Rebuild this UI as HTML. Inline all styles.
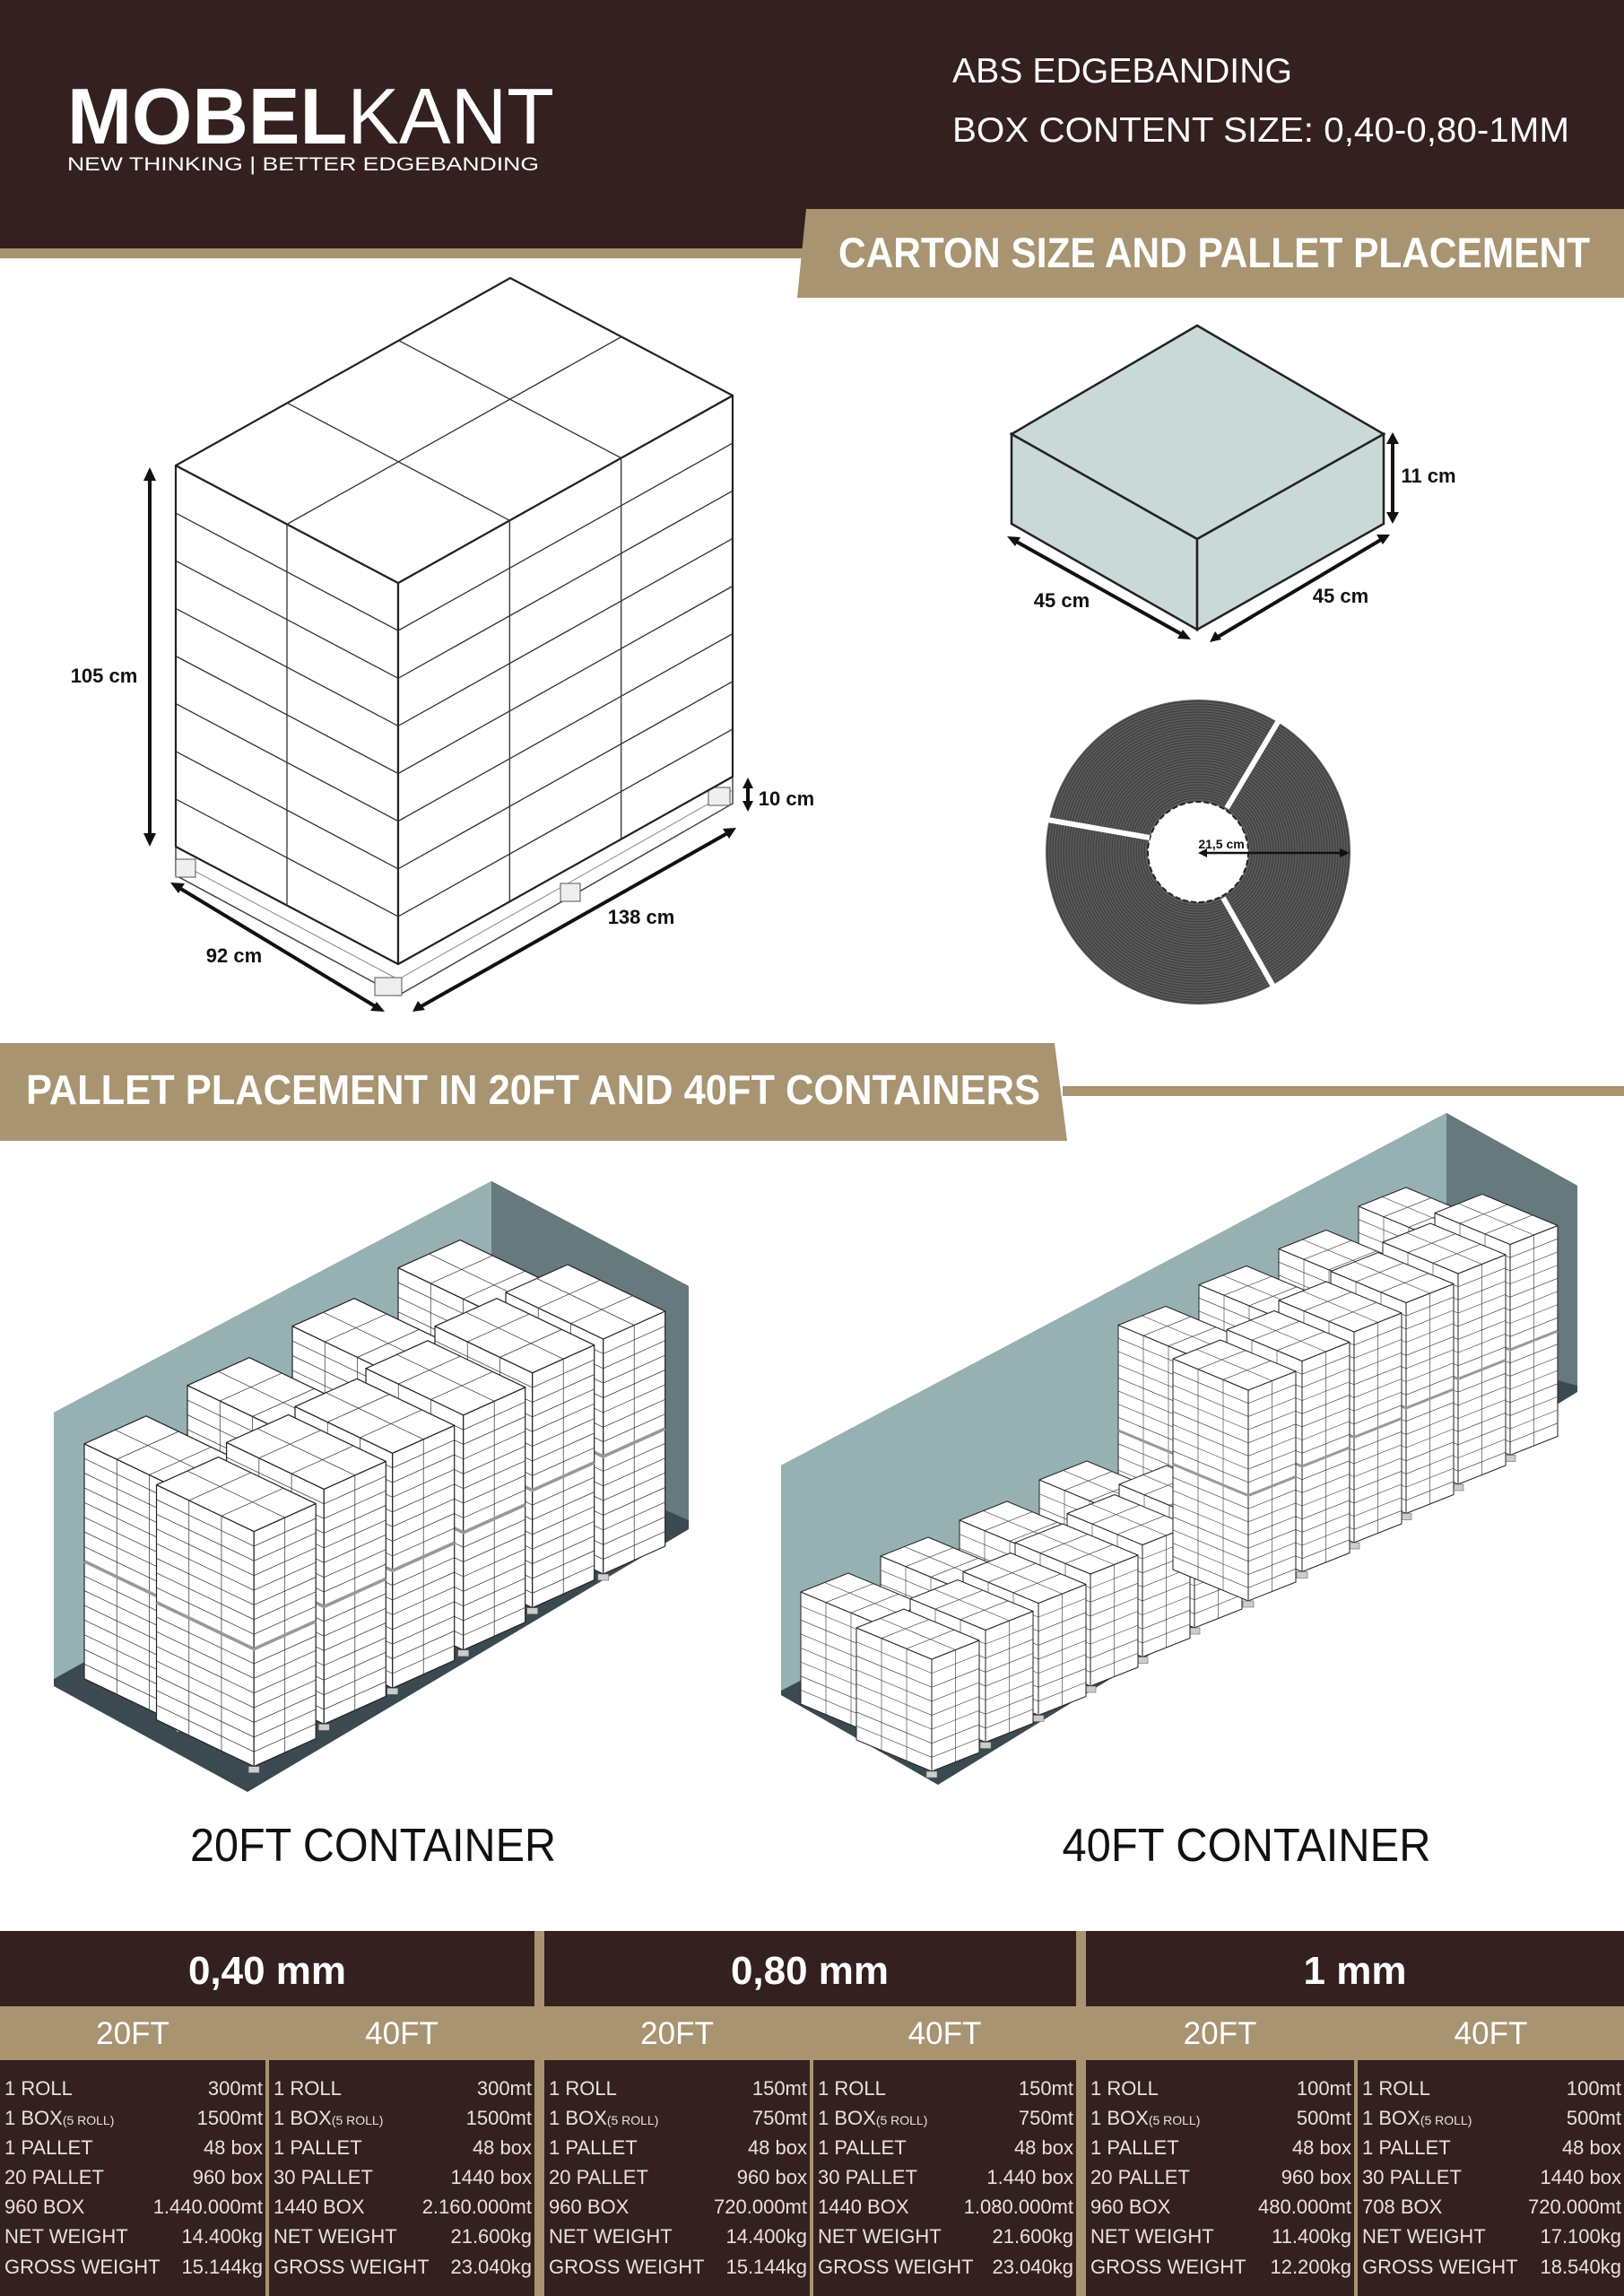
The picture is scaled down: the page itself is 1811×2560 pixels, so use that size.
<!DOCTYPE html>
<html><head><meta charset="utf-8">
<style>
html,body{margin:0;padding:0;background:#fff;}
svg{display:block;}
text{font-family:"Liberation Sans",sans-serif;}
</style></head>
<body>
<svg id="s" xmlns="http://www.w3.org/2000/svg" width="1811" height="2560" viewBox="0 0 1811 2560">
<rect width="1811" height="2560" fill="#fff"/>
<rect x="0" y="0" width="1811" height="277" fill="#33201f"/>
<rect x="0" y="277" width="900" height="11" fill="#a89470"/>
<polygon points="899,233 1811,233 1811,332 889,332" fill="#a89470"/>
<text x="75" y="160" font-size="88" fill="#fff" textLength="543" lengthAdjust="spacingAndGlyphs"><tspan font-weight="bold">MOBEL</tspan><tspan>KANT</tspan></text>
<text x="75" y="190" font-size="21" fill="#fff" textLength="526" lengthAdjust="spacingAndGlyphs">NEW THINKING | BETTER EDGEBANDING</text>
<text x="1062" y="92" font-size="39" fill="#fff" textLength="379" lengthAdjust="spacingAndGlyphs">ABS EDGEBANDING</text>
<text x="1062" y="158" font-size="39" fill="#fff" textLength="688" lengthAdjust="spacingAndGlyphs">BOX CONTENT SIZE: 0,40-0,80-1MM</text>
<text x="935" y="298" font-size="47" font-weight="bold" fill="#fff" textLength="838" lengthAdjust="spacingAndGlyphs">CARTON SIZE AND PALLET PLACEMENT</text>

<g id="pallet"></g>

<polygon points="1128,484 1335,363 1543,484 1335,601" fill="#c9d9d7" stroke="#222" stroke-width="2.5"/>
<polygon points="1128,484 1335,601 1335,702 1128,584" fill="#c9d9d7" stroke="#222" stroke-width="2.5"/>
<polygon points="1335,601 1543,484 1543,584 1335,702" fill="#c9d9d7" stroke="#222" stroke-width="2.5"/>
<g stroke="#111" stroke-width="4" fill="none">
<line x1="1553" y1="490" x2="1553" y2="576"/>
<line x1="1130" y1="602" x2="1321" y2="709"/>
<line x1="1355" y1="712" x2="1543" y2="600"/>
</g>
<g fill="#111">
<polygon points="1553,482 1546,495 1560,495"/><polygon points="1553,584 1546,571 1560,571"/>
<polygon points="1123,598 1138,599 1132,609"/><polygon points="1328,713 1313,712 1319,702"/>
<polygon points="1349,716 1355,704 1362,713"/><polygon points="1550,596 1535,596 1542,607"/>
</g>
<text x="1593" y="538" font-size="22" font-weight="bold" fill="#111" text-anchor="middle">11 cm</text>
<text x="1184" y="677" font-size="22" font-weight="bold" fill="#111" text-anchor="middle">45 cm</text>
<text x="1495" y="672" font-size="22" font-weight="bold" fill="#111" text-anchor="middle">45 cm</text>

<g id="roll"></g>

<polygon points="0,1163 1176,1163 1190,1272 0,1272" fill="#a89470"/>
<rect x="1185" y="1211" width="626" height="11" fill="#a89470"/>
<text x="29" y="1231" font-size="46" font-weight="bold" fill="#fff" textLength="1131" lengthAdjust="spacingAndGlyphs">PALLET PLACEMENT IN 20FT AND 40FT CONTAINERS</text>

<polygon points="60,1575 548,1317 768,1434 768,1705 276,1998 60,1880" fill="#3b4a50"/>
<polygon points="60,1575 548,1317 548,1600 60,1872" fill="#97b1b3"/>
<polygon points="548,1317 768,1434 768,1695 548,1600" fill="#66797d"/>
<polygon points="871,1634 1613,1241 1759,1322 1759,1552 1046,1990 871,1890" fill="#3b4a50"/>
<polygon points="871,1634 1613,1241 1613,1505 871,1885" fill="#97b1b3"/>
<polygon points="1613,1241 1759,1322 1759,1545 1613,1505" fill="#66797d"/>
<g id="stacks"></g>
<text x="416" y="2075" font-size="52" fill="#111" text-anchor="middle" textLength="408" lengthAdjust="spacingAndGlyphs">20FT CONTAINER</text>
<text x="1390" y="2075" font-size="52" fill="#111" text-anchor="middle" textLength="411" lengthAdjust="spacingAndGlyphs">40FT CONTAINER</text>

<rect x="0" y="2153" width="1811" height="407" fill="#a89470"/>
<g fill="#33201f">
<rect x="0" y="2153" width="596" height="84"/><rect x="607" y="2153" width="593" height="84"/><rect x="1211" y="2153" width="600" height="84"/>
<rect x="0" y="2297" width="296" height="263"/><rect x="300" y="2297" width="296" height="263"/>
<rect x="607" y="2297" width="296" height="263"/><rect x="907" y="2297" width="293" height="263"/>
<rect x="1211" y="2297" width="299" height="263"/><rect x="1514" y="2297" width="297" height="263"/>
</g>
<g id="table"></g>
</svg>
<script>
var NS="http://www.w3.org/2000/svg";
function el(p,tag,attrs,txt){var e=document.createElementNS(NS,tag);for(var k in attrs)e.setAttribute(k,attrs[k]);if(txt!==undefined)e.textContent=txt;p.appendChild(e);return e;}
function pts(a){return a.map(function(p){return p[0].toFixed(1)+","+p[1].toFixed(1);}).join(" ");}
function add(p,v,s){return [p[0]+v[0]*s,p[1]+v[1]*s];}
function stack(g,TL,a,b,h,nA,nB,layers,sw,mid,feet){
  var TF=add(TL,a,1),TR=add(TF,b,1),TB=add(TL,b,1);
  var d=[0,h];
  var st={fill:"#fff",stroke:"#222","stroke-width":sw,"stroke-linejoin":"round"};
  el(g,"polygon",Object.assign({points:pts([TL,TF,add(TF,d,1),add(TL,d,1)])},st));
  el(g,"polygon",Object.assign({points:pts([TF,TR,add(TR,d,1),add(TF,d,1)])},st));
  el(g,"polygon",Object.assign({points:pts([TL,TF,TR,TB])},st));
  var ls={stroke:"#333","stroke-width":sw*0.6};
  for(var i=1;i<nA;i++){var p=add(TL,a,i/nA);var q=add(p,b,1);el(g,"line",Object.assign({x1:p[0],y1:p[1],x2:q[0],y2:q[1]},ls));el(g,"line",Object.assign({x1:p[0],y1:p[1],x2:p[0],y2:p[1]+h},ls));}
  for(var j=1;j<nB;j++){var p=add(TL,b,j/nB);var q=add(p,a,1);el(g,"line",Object.assign({x1:p[0],y1:p[1],x2:q[0],y2:q[1]},ls));el(g,"line",Object.assign({x1:q[0],y1:q[1],x2:q[0],y2:q[1]+h},ls));}
  for(var k=1;k<layers;k++){var y=h*k/layers;el(g,"polyline",Object.assign({points:pts([[TL[0],TL[1]+y],[TF[0],TF[1]+y],[TR[0],TR[1]+y]]),fill:"none"},ls));}
  if(mid){var y=h/2;el(g,"polyline",{points:pts([[TL[0],TL[1]+y],[TF[0],TF[1]+y],[TR[0],TR[1]+y]]),fill:"none",stroke:"#999","stroke-width":sw*3});}
  if(feet!==false){var bl=add(TF,d,1);el(g,"rect",{x:bl[0]-6,y:bl[1],width:12,height:7,fill:"#ccc",stroke:"#666","stroke-width":0.6});}
}
var pg=document.getElementById("pallet");
el(pg,"polygon",{points:pts([[196,944],[444,1075],[817,866],[817,896],[444,1110],[196,976]]),fill:"#fff",stroke:"#444","stroke-width":1.5});
el(pg,"polyline",{points:pts([[196,960],[444,1092],[817,881]]),fill:"none",stroke:"#888","stroke-width":1});
[[196,958,22],[418,1090,30],[625,985,22],[790,878,24]].forEach(function(f){el(pg,"rect",{x:f[0],y:f[1],width:f[2],height:20,fill:"#eee",stroke:"#555","stroke-width":1});});
stack(pg,[196,519],[248,131],[373,-209],425,2,3,8,2.2,false,false);
var ag=el(pg,"g",{stroke:"#111","stroke-width":4,fill:"none"});
el(ag,"line",{x1:167,y1:533,x2:167,y2:932});
el(ag,"line",{x1:200,y1:990,x2:420,y2:1123});
el(ag,"line",{x1:468,y1:1123,x2:813,y2:928});
el(ag,"line",{x1:834,y1:877,x2:834,y2:895});
var af=el(pg,"g",{fill:"#111"});
el(af,"polygon",{points:"167,521 160,536 174,536"});el(af,"polygon",{points:"167,944 160,929 174,929"});
el(af,"polygon",{points:"190,984 206,985 199,996"});el(af,"polygon",{points:"429,1128 413,1127 420,1117"});
el(af,"polygon",{points:"460,1128 466,1116 474,1126"});el(af,"polygon",{points:"821,923 806,924 813,935"});
el(af,"polygon",{points:"834,867 828,879 840,879"});el(af,"polygon",{points:"834,905 828,893 840,893"});
[["105 cm",116,761],["92 cm",261,1073],["138 cm",715,1030],["10 cm",877,898]].forEach(function(t){el(pg,"text",{x:t[1],y:t[2],"font-size":22,"font-weight":"bold",fill:"#111","text-anchor":"middle"},t[0]);});
var rg=document.getElementById("roll");
el(rg,"circle",{cx:1336,cy:950,r:170,fill:"#5a5a5a"});
for(var r=60;r<=170;r+=3)el(rg,"circle",{cx:1336,cy:950,r:r,fill:"none",stroke:"#3a3a3a","stroke-width":1});
el(rg,"circle",{cx:1336,cy:950,r:56,fill:"#fff",stroke:"#222","stroke-width":2,"stroke-dasharray":"6 3"});
var wl={stroke:"#fff","stroke-width":6};
el(rg,"line",Object.assign({x1:1368,y1:901,x2:1425,y2:805},wl));
el(rg,"line",Object.assign({x1:1282,y1:934,x2:1168,y2:914},wl));
el(rg,"line",Object.assign({x1:1364,y1:1001,x2:1420,y2:1100},wl));
el(rg,"line",{x1:1342,y1:951,x2:1496,y2:951,stroke:"#111","stroke-width":2.5});
el(rg,"polygon",{points:"1336,951 1346,946 1346,956",fill:"#111"});
el(rg,"polygon",{points:"1505,951 1494,946 1494,956",fill:"#111"});
el(rg,"text",{x:1362,y:946,"font-size":14,"font-weight":"bold",fill:"#111","text-anchor":"middle"},"21,5 cm");
var sg=document.getElementById("stacks");
var a20=[108.7,52],b20=[69,-31],h20=262;
[[444,1413.6],[326,1478.7],[209,1544.7],[94,1609.8]].forEach(function(p){stack(sg,p,a20,b20,h20,3,2,16,1.2,true);});
[[564,1441],[485,1478.7],[408,1525.8],[329,1568.3],[252.6,1608.4],[174.5,1655.6]].forEach(function(p){stack(sg,p,a20,b20,h20,3,2,16,1.2,true);});
var a40=[84,35],b40=[53,-21];
[[1515,1345],[1426,1392.5],[1337,1432.5],[1247,1477.5]].forEach(function(p){stack(sg,p,a40,b40,235,3,2,16,1,true);});
[[1159,1650],[1070,1695],[982,1735],[893,1775]].forEach(function(p){stack(sg,p,a40,b40,125,3,2,8,1,false);});
[[1248,1655],[1190,1687.5],[1132,1720],[1074,1752.5],[1015,1782.5],[955,1815]].forEach(function(p){stack(sg,p,a40,b40,125,3,2,8,1,false);});
[[1600,1352.5],[1542,1385],[1484,1417.5],[1426,1450],[1368,1482.5],[1308,1515]].forEach(function(p){stack(sg,p,a40,b40,235,3,2,16,1,true);});
var tg=document.getElementById("table");
[["0,40 mm",298],["0,80 mm",903],["1 mm",1511]].forEach(function(h){el(tg,"text",{x:h[1],y:2212,"font-size":44,"font-weight":"bold",fill:"#fff","text-anchor":"middle"},h[0]);});
var cols=[[0,296],[300,596],[607,903],[907,1200],[1211,1510],[1514,1811]];
cols.forEach(function(c,i){el(tg,"text",{x:(c[0]+c[1])/2,y:2279,"font-size":35,fill:"#fff","text-anchor":"middle"},i%2?"40FT":"20FT");});
var labels=[["1 ROLL","1 BOX","1 PALLET","20 PALLET","960 BOX","NET WEIGHT","GROSS WEIGHT"],["1 ROLL","1 BOX","1 PALLET","30 PALLET","1440 BOX","NET WEIGHT","GROSS WEIGHT"]];
var vals=[
["300mt","1500mt","48 box","960 box","1.440.000mt","14.400kg","15.144kg"],
["300mt","1500mt","48 box","1440 box","2.160.000mt","21.600kg","23.040kg"],
["150mt","750mt","48 box","960 box","720.000mt","14.400kg","15.144kg"],
["150mt","750mt","48 box","1.440 box","1.080.000mt","21.600kg","23.040kg"],
["100mt","500mt","48 box","960 box","480.000mt","11.400kg","12.200kg"],
["100mt","500mt","48 box","1440 box","720.000mt","17.100kg","18.540kg"]];
var ys=[2336,2369,2402,2435,2468,2501,2535];
cols.forEach(function(c,i){
  var lab=labels[i%2].slice(); if(i==5) lab[4]="708 BOX";
  for(var r=0;r<7;r++){
    var t=el(tg,"text",{x:c[0]+5,y:ys[r],"font-size":22,fill:"#e8e2dc"},lab[r]);
    if(r==1){el(t,"tspan",{"font-size":14},"(5 ROLL)");}
    el(tg,"text",{x:c[1]-3,y:ys[r],"font-size":22,fill:"#e8e2dc","text-anchor":"end"},vals[i][r]);
  }
});
</script>
</body></html>
